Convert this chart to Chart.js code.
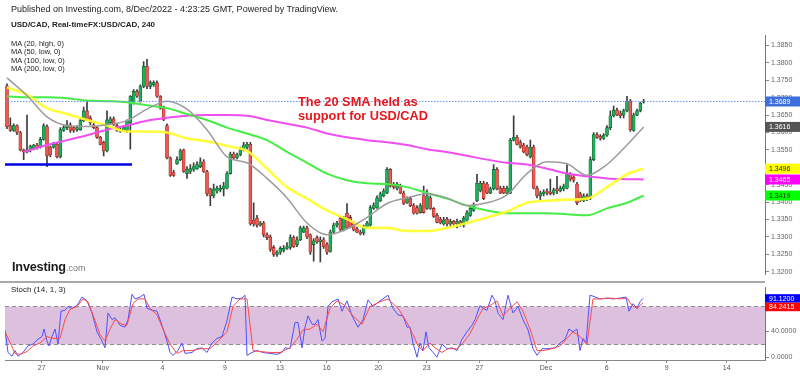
<!DOCTYPE html>
<html>
<head>
<meta charset="utf-8">
<title>USD/CAD 240</title>
<script src="https://cdn.jsdelivr.net/npm/chart.js@4.4.1/dist/chart.umd.min.js"></script>
<style>
  html, body { margin: 0; padding: 0; background: #ffffff; }
  #wrap { position: relative; width: 800px; height: 376px; overflow: hidden;
          font-family: 'Liberation Sans', Arial, Helvetica, sans-serif; color: #222; }
  canvas { position: absolute; left: 0; }
  #mainChart { top: 0; }
  #stochChart { top: 281px; }
  .lbl { position: absolute; white-space: nowrap; line-height: 1; }
  #pub { left: 11px; top: 4.5px; font-size: 9px; }
  #title { left: 11px; top: 20.5px; font-size: 8px; font-weight: bold; }
  #maList { left: 11px; top: 40px; font-size: 7.5px; line-height: 8.3px; }
  #note { left: 298px; top: 94.5px; font-size: 12.8px; font-weight: bold; line-height: 14px; color: #e8161d; }
  #logo { left: 12px; top: 261px; font-size: 12.7px; font-weight: bold; color: #1b1b1b; letter-spacing: -0.2px; }
  #logo span { font-size: 9px; font-weight: normal; color: #777; letter-spacing: 0; }
  #stochLbl { left: 11px; top: 286px; font-size: 8px; }
</style>
</head>
<body>
<div id="wrap">
  <canvas id="mainChart" width="800" height="281" style="width:800px;height:281px"></canvas>
  <canvas id="stochChart" width="800" height="95" style="width:800px;height:95px"></canvas>
  <div class="lbl" id="pub">Published on Investing.com, 8/Dec/2022 - 4:23:25 GMT, Powered by TradingView.</div>
  <div class="lbl" id="title">USD/CAD, Real-timeFX:USD/CAD, 240</div>
  <div class="lbl" id="maList">MA (20, high, 0)<br>MA (50, low, 0)<br>MA (100, low, 0)<br>MA (200, low, 0)</div>
  <div class="lbl" id="note">The 20 SMA held as<br>support for USD/CAD</div>
  <div class="lbl" id="logo">Investing<span>.com</span></div>
  <div class="lbl" id="stochLbl">Stoch (14, 1, 3)</div>
</div>
<script>
// 4H candles, index 0 = first candle on the left
const candleOpen = [
  1.3734,1.3620,1.3606,1.3620,1.3600,1.3550,1.3544,1.3550,1.3552,1.3564,1.3558,1.3580,
  1.3617,1.3558,1.3558,1.3566,1.3530,1.3606,1.3614,1.3622,1.3614,1.3608,1.3608,1.3634,
  1.3662,1.3642,1.3622,1.3614,1.3586,1.3572,1.3547,1.3628,1.3639,1.3620,1.3608,1.3606,
  1.3606,1.3628,1.3684,1.3718,1.3690,1.3732,1.3790,1.3732,1.3737,1.3743,1.3704,1.3670,
  1.3620,1.3527,1.3485,1.3510,1.3522,1.3550,1.3482,1.3488,1.3494,1.3496,1.3502,1.3516,
  1.3488,1.3438,1.3418,1.3432,1.3435,1.3438,1.3440,1.3482,1.3538,1.3527,1.3536,1.3550,
  1.3558,1.3566,1.3348,1.3354,1.3334,1.3340,1.3306,1.3300,1.3270,1.3250,1.3256,1.3261,
  1.3267,1.3270,1.3298,1.3278,1.3292,1.3314,1.3326,1.3306,1.3278,1.3298,1.3286,1.3292,
  1.3278,1.3258,1.3314,1.3334,1.3354,1.3320,1.3368,1.3356,1.3340,1.3323,1.3314,1.3312,
  1.3328,1.3334,1.3382,1.3384,1.3404,1.3418,1.3426,1.3494,1.3452,1.3440,1.3446,1.3426,
  1.3398,1.3410,1.3390,1.3384,1.3370,1.3418,1.3382,1.3412,1.3382,1.3362,1.3351,1.3337,
  1.3351,1.3337,1.3345,1.3337,1.3345,1.3334,1.3348,1.3362,1.3376,1.3404,1.3432,1.3454,
  1.3452,1.3426,1.3438,1.3494,1.3440,1.3440,1.3426,1.3426,1.3578,1.3586,1.3572,1.3564,
  1.3558,1.3530,1.3558,1.3440,1.3418,1.3424,1.3432,1.3429,1.3426,1.3438,1.3432,1.3438,
  1.3440,1.3480,1.3471,1.3452,1.3424,1.3404,1.3418,1.3412,1.3522,1.3594,1.3589,1.3583,
  1.3592,1.3614,1.3648,1.3664,1.3656,1.3650,1.3662,1.3690,1.3606,1.3650,1.3662,1.3687
];
const candleHigh = [
  1.3740,1.3642,1.3625,1.3622,1.3603,1.3552,1.3650,1.3564,1.3566,1.3569,1.3586,1.3625,
  1.3622,1.3561,1.3572,1.3572,1.3614,1.3620,1.3634,1.3628,1.3617,1.3620,1.3639,1.3673,
  1.3690,1.3648,1.3628,1.3617,1.3589,1.3575,1.3662,1.3645,1.3645,1.3625,1.3614,1.3620,
  1.3636,1.3706,1.3723,1.3723,1.3737,1.3804,1.3810,1.3748,1.3748,1.3748,1.3706,1.3676,
  1.3625,1.3530,1.3491,1.3530,1.3552,1.3552,1.3502,1.3508,1.3513,1.3516,1.3527,1.3522,
  1.3491,1.3440,1.3452,1.3446,1.3449,1.3457,1.3488,1.3544,1.3544,1.3541,1.3558,1.3572,
  1.3572,1.3572,1.3398,1.3362,1.3345,1.3345,1.3312,1.3306,1.3275,1.3261,1.3272,1.3275,
  1.3284,1.3306,1.3303,1.3300,1.3331,1.3331,1.3331,1.3309,1.3295,1.3303,1.3300,1.3298,
  1.3284,1.3320,1.3340,1.3345,1.3359,1.3359,1.3396,1.3362,1.3345,1.3328,1.3320,1.3334,
  1.3345,1.3390,1.3398,1.3418,1.3429,1.3438,1.3499,1.3496,1.3457,1.3457,1.3452,1.3432,
  1.3415,1.3415,1.3396,1.3390,1.3396,1.3446,1.3435,1.3418,1.3384,1.3368,1.3356,1.3356,
  1.3356,1.3351,1.3348,1.3351,1.3348,1.3359,1.3376,1.3387,1.3398,1.3480,1.3460,1.3460,
  1.3457,1.3443,1.3508,1.3499,1.3446,1.3446,1.3446,1.3583,1.3648,1.3592,1.3578,1.3569,
  1.3564,1.3578,1.3564,1.3446,1.3432,1.3435,1.3438,1.3466,1.3440,1.3474,1.3446,1.3452,
  1.3508,1.3485,1.3477,1.3457,1.3429,1.3424,1.3424,1.3530,1.3600,1.3600,1.3594,1.3597,
  1.3620,1.3662,1.3676,1.3670,1.3662,1.3667,1.3704,1.3695,1.3656,1.3667,1.3687,1.3695
];
const candleLow = [
  1.3611,1.3603,1.3603,1.3594,1.3547,1.3522,1.3541,1.3544,1.3550,1.3552,1.3555,1.3578,
  1.3502,1.3530,1.3555,1.3527,1.3527,1.3603,1.3608,1.3600,1.3600,1.3603,1.3606,1.3631,
  1.3634,1.3622,1.3611,1.3583,1.3564,1.3533,1.3544,1.3625,1.3620,1.3603,1.3600,1.3603,
  1.3600,1.3552,1.3681,1.3701,1.3687,1.3729,1.3726,1.3726,1.3732,1.3701,1.3667,1.3634,
  1.3524,1.3474,1.3474,1.3508,1.3519,1.3485,1.3468,1.3482,1.3488,1.3494,1.3499,1.3485,
  1.3418,1.3390,1.3412,1.3426,1.3429,1.3418,1.3438,1.3480,1.3522,1.3524,1.3533,1.3547,
  1.3552,1.3334,1.3331,1.3328,1.3331,1.3300,1.3292,1.3258,1.3244,1.3244,1.3250,1.3256,
  1.3264,1.3264,1.3270,1.3272,1.3289,1.3312,1.3295,1.3250,1.3230,1.3281,1.3228,1.3267,
  1.3250,1.3256,1.3312,1.3328,1.3317,1.3317,1.3323,1.3326,1.3317,1.3312,1.3306,1.3306,
  1.3326,1.3331,1.3379,1.3382,1.3401,1.3415,1.3424,1.3443,1.3438,1.3435,1.3424,1.3393,
  1.3396,1.3387,1.3365,1.3365,1.3368,1.3368,1.3379,1.3379,1.3356,1.3340,1.3337,1.3334,
  1.3331,1.3328,1.3331,1.3326,1.3331,1.3328,1.3345,1.3359,1.3373,1.3401,1.3429,1.3407,
  1.3424,1.3424,1.3435,1.3435,1.3424,1.3424,1.3424,1.3424,1.3575,1.3564,1.3555,1.3541,
  1.3533,1.3527,1.3438,1.3412,1.3407,1.3418,1.3421,1.3421,1.3421,1.3424,1.3429,1.3432,
  1.3438,1.3460,1.3457,1.3393,1.3401,1.3401,1.3404,1.3407,1.3519,1.3583,1.3578,1.3580,
  1.3589,1.3608,1.3645,1.3648,1.3642,1.3642,1.3659,1.3603,1.3603,1.3648,1.3659,1.3684
];
const candleClose = [
  1.3617,1.3606,1.3620,1.3600,1.3550,1.3544,1.3550,1.3561,1.3564,1.3555,1.3580,1.3620,
  1.3533,1.3536,1.3566,1.3530,1.3608,1.3614,1.3622,1.3606,1.3606,1.3614,1.3634,1.3662,
  1.3636,1.3628,1.3614,1.3586,1.3566,1.3547,1.3636,1.3639,1.3622,1.3606,1.3603,1.3614,
  1.3634,1.3704,1.3718,1.3704,1.3732,1.3790,1.3732,1.3743,1.3743,1.3704,1.3670,1.3636,
  1.3527,1.3477,1.3477,1.3522,1.3547,1.3488,1.3494,1.3496,1.3502,1.3508,1.3516,1.3488,
  1.3424,1.3418,1.3438,1.3440,1.3440,1.3446,1.3482,1.3538,1.3527,1.3536,1.3550,1.3564,
  1.3566,1.3337,1.3337,1.3334,1.3340,1.3306,1.3298,1.3264,1.3250,1.3256,1.3267,1.3267,
  1.3272,1.3298,1.3272,1.3292,1.3326,1.3326,1.3300,1.3256,1.3289,1.3286,1.3292,1.3272,
  1.3256,1.3314,1.3334,1.3340,1.3320,1.3354,1.3326,1.3328,1.3320,1.3314,1.3309,1.3328,
  1.3340,1.3384,1.3390,1.3412,1.3424,1.3432,1.3494,1.3446,1.3443,1.3452,1.3426,1.3396,
  1.3410,1.3390,1.3368,1.3368,1.3390,1.3370,1.3418,1.3382,1.3359,1.3342,1.3340,1.3348,
  1.3337,1.3345,1.3337,1.3345,1.3337,1.3354,1.3370,1.3382,1.3390,1.3454,1.3454,1.3410,
  1.3426,1.3438,1.3494,1.3438,1.3426,1.3426,1.3440,1.3578,1.3586,1.3566,1.3558,1.3544,
  1.3536,1.3558,1.3440,1.3418,1.3426,1.3429,1.3426,1.3424,1.3435,1.3432,1.3440,1.3446,
  1.3480,1.3466,1.3463,1.3398,1.3404,1.3418,1.3410,1.3522,1.3594,1.3586,1.3583,1.3592,
  1.3614,1.3648,1.3664,1.3650,1.3648,1.3662,1.3690,1.3608,1.3650,1.3662,1.3684,1.3689
];

// moving averages, read every 6 candles
const maIdx = [0,6,12,18,24,30,36,42,48,54,60,66,72,78,84,90,96,102,108,114,120,126,132,138,144,150,156,162,168,174,180,186,191];
const ma20 = [1.3757,1.3706,1.3645,1.3620,1.3617,1.3622,1.3634,1.3667,1.3690,1.3667,1.3608,1.3530,1.3513,1.3468,1.3412,1.3340,1.3306,
              1.3323,1.3356,1.3396,1.3412,1.3424,1.3412,1.3390,1.3398,1.3421,1.3482,1.3516,1.3510,1.3477,1.3508,1.3564,1.3616];
const ma50 = [1.3729,1.3709,1.3670,1.3653,1.3636,1.3620,1.3603,1.3603,1.3600,1.3583,1.3575,1.3561,1.3547,1.3496,1.3443,1.3410,1.3376,
              1.3351,1.3326,1.3326,1.3317,1.3317,1.3326,1.3340,1.3356,1.3373,1.3398,1.3404,1.3407,1.3410,1.3443,1.3480,1.3496];
const ma100 = [1.3704,1.3701,1.3701,1.3698,1.3692,1.3690,1.3687,1.3678,1.3670,1.3653,1.3636,1.3614,1.3597,1.3578,1.3544,1.3513,1.3482,
               1.3463,1.3454,1.3452,1.3443,1.3426,1.3410,1.3390,1.3376,1.3368,1.3368,1.3368,1.3365,1.3362,1.3382,1.3398,1.3419];
const ma200Idx = [5,12,18,24,30,36,42,48,54,60,66,72,78,84,90,96,102,108,114,120,126,132,138,144,150,156,162,168,174,180,186,191];
const ma200 = [1.3544,1.3564,1.3578,1.3592,1.3608,1.3620,1.3634,1.3642,1.3648,1.3650,1.3650,1.3648,1.3636,1.3625,1.3614,1.3597,
               1.3586,1.3578,1.3572,1.3564,1.3552,1.3544,1.3533,1.3522,1.3513,1.3508,1.3496,1.3482,1.3474,1.3468,1.3466,1.3465];

// horizontal support line drawn on the left
const supportIdx = [-0.6, 37.5];
const supportPrice = [1.3508, 1.3508];

// stochastic (14,1,3)
const stochKIdx = [-0.6,0.3,1.5,2.4,3.3,4.8,6.3,7.8,9.3,10.5,11.1,12,12.6,13.5,14.4,15.3,16.2,17.4,18.3,19.5,21,22.5,24,25.5,27,28.5,29.4,
  30.3,31.5,32.4,33.9,35.4,36.3,37.5,38.4,39.9,41.1,42,43.5,45,46.5,48,48.9,49.8,51.3,52.5,53.4,55.5,57,58.5,60,61.5,63,64.5,66,67.5,69,
  70.5,71.4,72,73.5,75,76.8,78.9,81,82.5,83.4,84.9,86.4,87.3,88.5,89.4,90.3,91.5,92.4,93.3,94.5,95.4,96.3,97.5,99.3,100.5,102,103.5,105.3,
  106.8,108.3,109.8,111.9,114.3,115.8,117.3,118.8,120,120.9,121.8,123,123.9,124.8,125.7,126.6,127.8,129,130.5,132,133.5,135,136.5,138,
  139.5,140.4,141.9,142.8,144,145.5,146.4,147.3,148.8,150.3,151.8,153.3,154.8,156.3,157.8,159,160.5,162.3,164.4,165.9,167.4,168.6,169.8,
  171,171.9,172.8,173.7,174.9,175.8,177.9,180,181.8,183.9,185.7,186.6,187.8,189,189.9,190.8];
const stochK = [42.5,7.7,1.9,10.6,1.9,7.7,17.8,20.7,28.0,32.3,43.9,25.1,17.8,32.3,43.9,20.7,71.4,72.9,78.7,75.8,80.1,93.2,87.4,68.6,39.6,25.1,14.9,
  68.6,58.4,61.3,49.7,46.8,58.4,97.5,90.3,93.2,97.5,75.8,72.9,71.4,49.7,25.1,7.7,3.3,10.6,22.2,6.2,7.7,13.5,14.9,7.7,22.2,29.4,32.3,56.9,93.2,90.3,
  91.7,96.1,3.3,7.7,10.6,7.7,6.2,4.8,7.7,14.9,13.5,54.0,54.0,14.9,46.8,64.2,51.2,51.2,58.4,25.1,29.4,78.7,85.9,90.3,71.4,87.4,64.2,46.8,
  58.4,88.8,78.7,87.4,96.1,75.8,65.7,64.2,46.8,46.8,22.2,0.4,22.2,10.6,39.6,14.9,7.7,0.4,20.7,13.5,14.9,10.6,28.0,39.6,
  49.7,58.4,80.1,75.8,72.9,96.1,87.4,68.6,58.4,96.1,68.6,78.7,58.4,42.5,13.5,3.3,13.5,13.5,14.9,22.2,28.0,43.9,39.6,
  43.9,10.6,29.4,22.2,96.1,94.6,90.3,91.7,90.3,91.7,93.2,71.4,83.0,75.8,85.9,91.12];
const stochDIdx = [-0.6,1,2.4,3.9,6,7.8,9.9,12,13.8,15.9,17.4,18.9,21,22.8,24.3,26.4,27.9,29.4,30.9,32.4,34.5,36,37.8,39.3,41.4,42.9,45,46.8,
  48.9,51,52.8,55.5,57.9,60.9,63.3,66,67.8,69.9,72,73.8,75.9,78.9,81.9,84.9,87,88.8,90.9,93,94.8,96.9,99,101.4,103.8,106.5,108.9,111.9,114.3,
  117.3,120,121.8,123.3,124.8,126.9,128.4,130.5,132.3,135,136.8,138.9,141,142.8,144.9,147,148.8,150.9,153,154.8,156.9,159,160.8,163.5,
  165.9,168,169.8,171.9,174,175.8,177.9,180.9,183.9,186,187.5,189,190.8];
const stochD = [39.6,22.2,6.2,4.8,9.1,17.8,22.2,32.3,29.4,29.4,58.4,74.3,78.7,90.3,85.9,56.9,35.2,25.1,43.9,58.4,51.2,49.7,83.0,90.3,90.3,75.8,65.7,43.9,
  20.7,6.2,10.6,10.6,13.5,13.5,25.1,39.6,78.7,90.3,90.3,10.6,9.1,7.7,7.7,14.9,28.0,42.5,43.9,51.2,39.6,75.8,87.4,80.1,64.2,51.2,78.7,85.9,90.3,
  76.0,54.0,35.2,17.8,10.6,22.2,14.9,7.7,13.5,13.5,22.2,36.7,58.4,75.8,80.1,87.4,64.2,75.8,85.9,71.4,43.9,10.6,10.6,13.5,
  17.8,29.4,39.6,32.3,20.7,90.3,90.3,91.7,90.3,91.7,80.1,75.8,84.2415];
const stochBand = [20, 80];

// axis ticks
const priceTicks = [1.3200,1.3250,1.3300,1.3350,1.3400,1.3450,1.3500,1.3550,1.3600,1.3650,1.3700,1.3750,1.3800,1.3850];
const stochTicks = [0, 40, 80];
const dateTickIdx = [10.4, 28.7, 46.6, 65.4, 81.9, 95.9, 111.4, 125.9, 141.7, 161.7, 179.9, 197.9, 215.9];
const dateTickLabels = ['27','Nov','4','9','13','16','20','23','27','Dec','6','9','14'];

// visible index window (includes empty future space on the right)
const xMin = -0.6, xMax = 227.4;
const FONT = "'Liberation Sans', Arial, sans-serif";

function pts(xs, ys) { return xs.map((x, i) => ({ x: x, y: ys[i] })); }
const last = a => a[a.length - 1];

const wickData = candleOpen.map((o, i) => ({ x: i, y: [candleLow[i], candleHigh[i]] }));
const bodyData = candleOpen.map((o, i) => ({ x: i, y: [o, candleClose[i]] }));
const isUp = i => candleClose[i] >= candleOpen[i];

function drawTags(chart, tags, h) {
  const ctx = chart.ctx, sy = chart.scales.y, x0 = chart.chartArea.right;
  ctx.save();
  ctx.font = '7px ' + FONT;
  ctx.textBaseline = 'middle';
  let prevBottom = -1e9;
  tags.forEach(t => {
    let top = sy.getPixelForValue(t.value) - h / 2;
    if (top < prevBottom) top = prevBottom;
    ctx.fillStyle = t.bg;
    ctx.fillRect(x0, top, chart.width - x0, h);
    ctx.fillStyle = t.fg;
    ctx.fillText(t.value.toFixed(4), x0 + 4, top + h / 2 + 0.5);
    prevBottom = top + h;
  });
  ctx.restore();
}

const mainTags = [
  { value: last(candleClose), bg: '#3d6fdc', fg: '#ffffff' },
  { value: last(ma20), bg: '#555555', fg: '#ffffff' },
  { value: last(ma50), bg: '#ffff00', fg: '#222222' },
  { value: last(ma200), bg: '#ff00ff', fg: '#ffffff' },
  { value: last(ma100), bg: '#00ff00', fg: '#222222' }
];
const stochTags = [
  { value: last(stochK), bg: '#0000ff', fg: '#ffffff' },
  { value: last(stochD), bg: '#ff0000', fg: '#ffffff' }
];

const yAxisCommon = {
  position: 'right',
  afterFit: s => { s.width = 35; },
  grid: { drawOnChartArea: false, drawTicks: true, tickLength: 4, color: '#888' },
  border: { display: true, color: '#777', width: 1 },
  ticks: { font: { size: 7, family: FONT }, color: '#666', padding: 2, autoSkip: false }
};

new Chart(document.getElementById('mainChart'), {
  type: 'bar',
  data: {
    datasets: [
      { type: 'bar', data: wickData, backgroundColor: '#3c3c3c', barThickness: 1, grouped: false, order: 6 },
      { type: 'bar', data: bodyData, grouped: false, order: 5, barThickness: 3,
        backgroundColor: c => isUp(c.dataIndex) ? '#1bb25b' : '#f0594f',
        borderColor: c => isUp(c.dataIndex) ? '#0f5a2c' : '#8c2020',
        borderWidth: 0.6, borderSkipped: false },
      { type: 'line', data: pts(ma200Idx, ma200), borderColor: '#f04ef0', borderWidth: 2, pointRadius: 0, cubicInterpolationMode: 'monotone', order: 4 },
      { type: 'line', data: pts(maIdx, ma100), borderColor: '#44ee44', borderWidth: 2, pointRadius: 0, cubicInterpolationMode: 'monotone', order: 3 },
      { type: 'line', data: pts(maIdx, ma50), borderColor: 'rgba(255,255,40,0.9)', borderWidth: 2.6, pointRadius: 0, cubicInterpolationMode: 'monotone', order: 2 },
      { type: 'line', data: pts(maIdx, ma20), borderColor: '#9c9c9c', borderWidth: 1.5, pointRadius: 0, cubicInterpolationMode: 'monotone', order: 1 },
      { type: 'line', data: [{ x: xMin, y: last(candleClose) }, { x: xMax, y: last(candleClose) }],
        borderColor: '#6f93ea', borderWidth: 1, borderDash: [1.5, 1.5], pointRadius: 0, order: 0.5 },
      { type: 'line', data: pts(supportIdx, supportPrice), borderColor: '#0000e6', borderWidth: 2.5, pointRadius: 0, order: 0 }
    ]
  },
  options: {
    responsive: false, animation: false, events: [], devicePixelRatio: 1,
    layout: { padding: { left: 5, top: 35, right: 0, bottom: 0 } },
    plugins: { legend: { display: false }, tooltip: { enabled: false } },
    scales: {
      x: { type: 'linear', min: xMin, max: xMax, offset: false, display: false },
      y: Object.assign({}, yAxisCommon, {
        min: 1.31912, max: 1.3880,
        afterBuildTicks: s => { s.ticks = priceTicks.map(v => ({ value: v })); },
        ticks: Object.assign({}, yAxisCommon.ticks, { callback: v => Number(v).toFixed(4) })
      })
    }
  },
  plugins: [{ id: 'mainTags', afterDraw: c => drawTags(c, mainTags, 10) }]
});

new Chart(document.getElementById('stochChart'), {
  type: 'line',
  data: {
    datasets: [
      { data: pts(stochDIdx, stochD), borderColor: '#ff4a4a', borderWidth: 1, pointRadius: 0, tension: 0 },
      { data: pts(stochKIdx, stochK), borderColor: '#5050ff', borderWidth: 1, pointRadius: 0, tension: 0 }
    ]
  },
  options: {
    responsive: false, animation: false, events: [], devicePixelRatio: 1,
    layout: { padding: { left: 5, top: 2, right: 0, bottom: 0 } },
    plugins: { legend: { display: false }, tooltip: { enabled: false } },
    scales: {
      x: {
        type: 'linear', min: xMin, max: xMax, offset: false,
        afterFit: s => { s.height = 16; },
        afterBuildTicks: s => { s.ticks = dateTickIdx.map(v => ({ value: v })); },
        grid: { drawOnChartArea: false, drawTicks: true, tickLength: 3, color: '#888' },
        border: { display: true, color: '#888', width: 1 },
        ticks: { autoSkip: false, maxRotation: 0, padding: 1, color: '#555',
                 font: { size: 7, family: FONT }, callback: (v, i) => dateTickLabels[i] }
      },
      y: Object.assign({}, yAxisCommon, {
        min: -3.94, max: 108.47,
        afterBuildTicks: s => { s.ticks = stochTicks.map(v => ({ value: v })); },
        ticks: Object.assign({}, yAxisCommon.ticks, { callback: v => Number(v).toFixed(4) })
      })
    }
  },
  plugins: [{
    id: 'stochBand',
    beforeDatasetsDraw(chart) {
      const { ctx, chartArea: a } = chart, y = chart.scales.y;
      const yTop = Math.round(y.getPixelForValue(stochBand[1])) + 0.5;
      const yBot = Math.round(y.getPixelForValue(stochBand[0])) + 0.5;
      ctx.save();
      ctx.fillStyle = '#dcc0dd';
      ctx.fillRect(a.left, yTop, a.right - a.left, yBot - yTop);
      ctx.strokeStyle = '#8c8c8c';
      ctx.lineWidth = 1;
      ctx.setLineDash([4, 3]);
      [yTop, yBot].forEach(py => {
        ctx.beginPath(); ctx.moveTo(a.left, py); ctx.lineTo(a.right, py); ctx.stroke();
      });
      ctx.restore();
    },
    afterDraw(chart) {
      const ctx = chart.ctx;
      // panel separator
      ctx.save();
      ctx.strokeStyle = '#a8a8a8';
      ctx.lineWidth = 2;
      ctx.beginPath(); ctx.moveTo(0, 1); ctx.lineTo(chart.chartArea.right, 1); ctx.stroke();
      ctx.restore();
      drawTags(chart, stochTags, 8.5);
    }
  }]
});
</script>
</body>
</html>
